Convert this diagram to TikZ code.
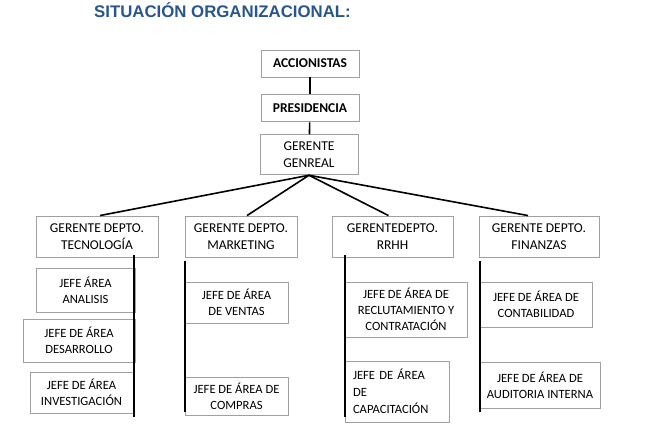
\documentclass[tikz,border=0pt]{standalone}
\usepackage{fontspec}
\setmainfont{Carlito}
\newfontfamily\titlefont{Liberation Sans}
\usepackage{xcolor}
\usetikzlibrary{positioning,calc}
\definecolor{titleblue}{RGB}{40,86,140}
\definecolor{boxgray}{RGB}{160,160,160}

\begin{document}
\begin{tikzpicture}[
  x=1pt, y=-1pt,
  every node/.style={font=\fontsize{13.5}{17}\selectfont},
  box/.style={draw=boxgray, line width=0.9pt, align=center, inner sep=2pt},
  jefe/.style={box, font=\fontsize{12.6}{16}\selectfont},
  link/.style={line width=1.6pt, black},
  trunk/.style={line width=2pt, black}
]
  \useasboundingbox (0,0) rectangle (649,433);

  \node[font=\titlefont\fontsize{16.8}{20}\selectfont\bfseries, text=titleblue] (title) at (222.5,10) {SITUACIÓN ORGANIZACIONAL:};

  % direccion
  \node[box, minimum width=98, minimum height=27, font=\fontsize{13.5}{16.5}\selectfont\bfseries] (acc) at (310,63.5) {ACCIONISTAS};
  \node[box, minimum width=98, minimum height=27, font=\fontsize{13.5}{16.5}\selectfont\bfseries, below=17pt of acc] (pres) {PRESIDENCIA};
  \node[box, minimum width=98, minimum height=40, below=12pt of pres, xshift=-1pt] (gg) {GERENTE\\GENREAL};

  % departamentos
  \node[box, minimum width=122, minimum height=41] (tec) at (97,236.5) {GERENTE DEPTO.\\TECNOLOGÍA};
  \node[box, minimum width=112, minimum height=41] (mkt) at (241,236.5) {GERENTE DEPTO.\\MARKETING};
  \node[box, minimum width=121, minimum height=41] (rrhh) at (392.5,236.5) {GERENTEDEPTO.\\RRHH};
  \node[box, minimum width=120, minimum height=41] (fin) at (539,236.5) {GERENTE DEPTO.\\FINANZAS};

  % jefes de area
  \node[jefe, minimum width=99, minimum height=44] (ana) at (85.5,290) {JEFE ÁREA\\ANALISIS};
  \node[jefe, minimum width=112, minimum height=43] (des) at (79,340.5) {JEFE DE ÁREA\\DESARROLLO};
  \node[jefe, minimum width=103, minimum height=41] (inv) at (81.5,392.5) {JEFE DE ÁREA\\INVESTIGACIÓN};
  \node[jefe, minimum width=103, minimum height=41] (ven) at (236.5,302.5) {JEFE DE ÁREA\\DE VENTAS};
  \node[jefe, minimum width=103, minimum height=38] (com) at (236.5,396) {JEFE DE ÁREA DE\\COMPRAS};
  \node[jefe, minimum width=122, minimum height=55] (rec) at (406,309.5) {JEFE DE ÁREA DE\\RECLUTAMIENTO Y\\CONTRATACIÓN};
  \node[jefe, minimum width=104, minimum height=61, align=left, text width=88, font=\fontsize{12.6}{17}\selectfont] (cap) at (397,391.5) {JEFE DE ÁREA\\DE\\CAPACITACIÓN};
  \node[jefe, minimum width=112, minimum height=45] (con) at (536,304.5) {JEFE DE ÁREA DE\\CONTABILIDAD};
  \node[jefe, minimum width=120, minimum height=46] (aud) at (540,385) {JEFE DE ÁREA DE\\AUDITORIA INTERNA};

  % lineas de mando
  \draw[link] (acc) -- (pres);
  \draw[link] (pres) -- (gg);
  \draw[link] (gg.south) -- ([xshift=3pt]tec.north);
  \draw[link] (gg.south) -- ([xshift=6pt]mkt.north);
  \draw[link] (gg.south) -- ([xshift=-4pt]rrhh.north);
  \draw[link] (gg.south) -- ([xshift=-11pt]fin.north);

  \coordinate (tecEnd) at (134,417);
  \coordinate (mktEnd) at (184.5,412);
  \coordinate (rrhhEnd) at (345,417);
  \coordinate (finEnd) at (480,412);
  \draw[trunk] ([yshift=2pt]tec.south -| tecEnd) -- (tecEnd);
  \draw[trunk] ([yshift=-4pt]mkt.south -| mktEnd) -- (mktEnd);
  \draw[trunk] ([yshift=2pt]rrhh.south -| rrhhEnd) -- (rrhhEnd);
  \draw[trunk] ([yshift=-4pt]fin.south -| finEnd) -- (finEnd);
\end{tikzpicture}
\end{document}
